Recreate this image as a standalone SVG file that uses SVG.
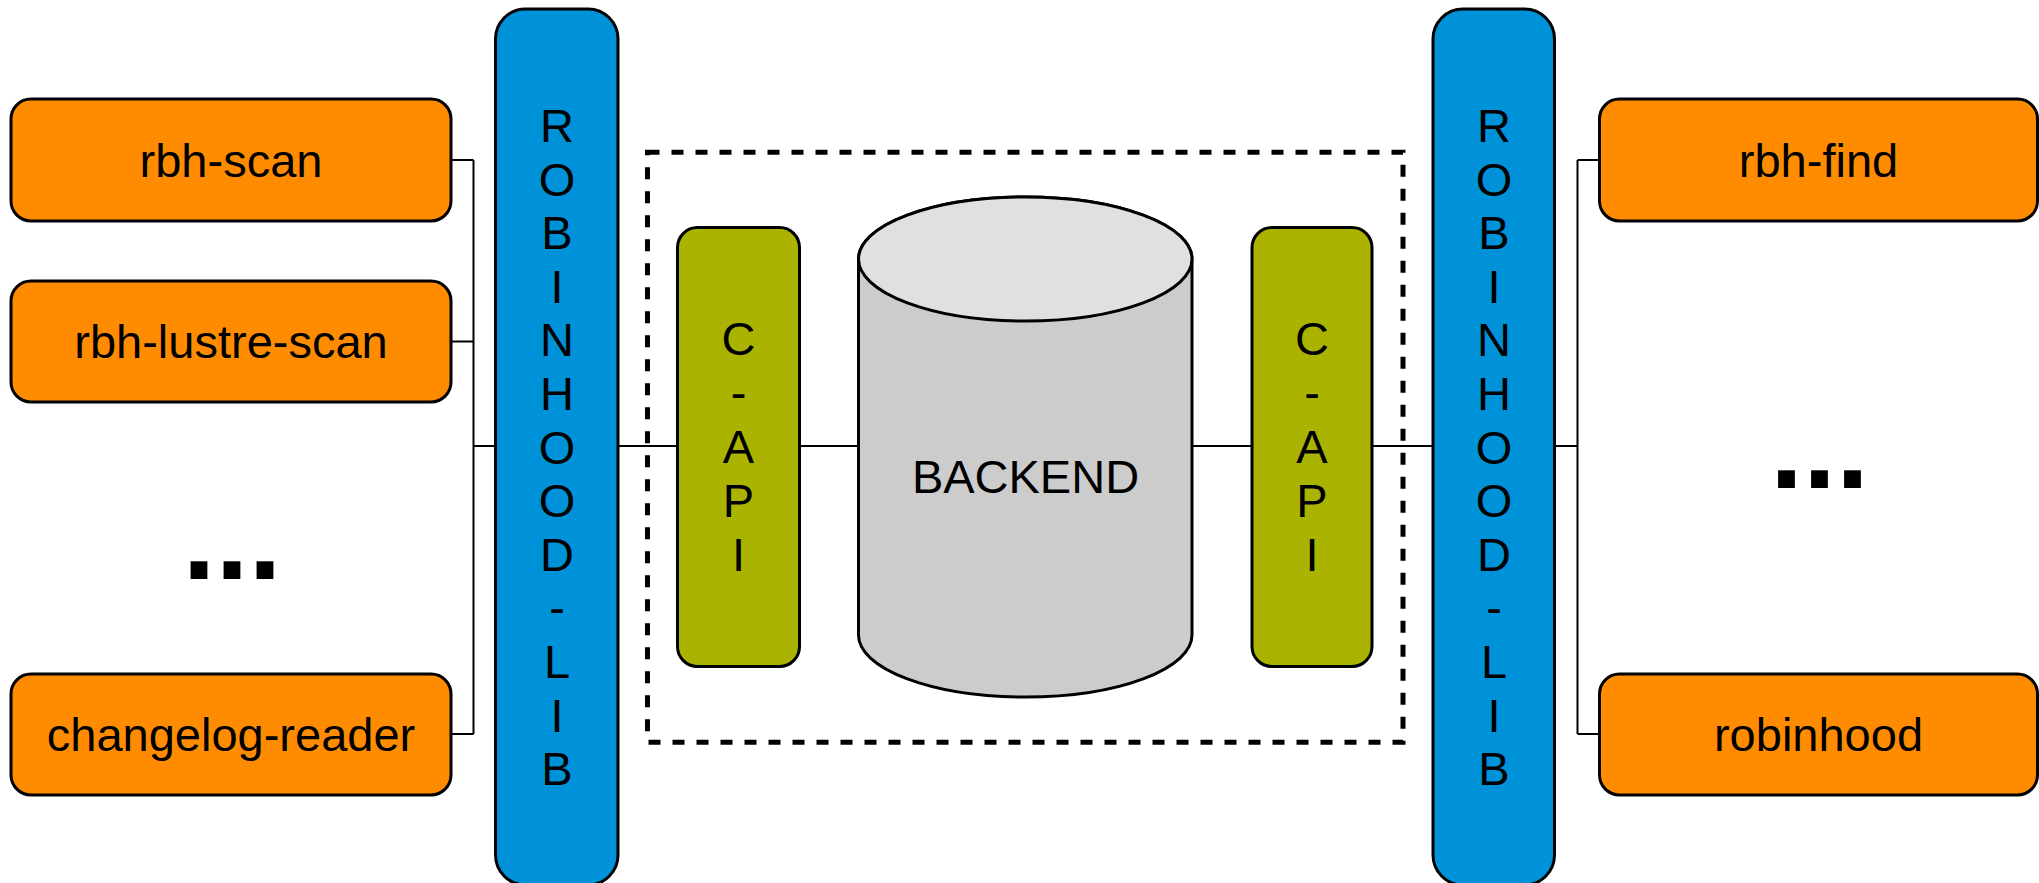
<svg xmlns="http://www.w3.org/2000/svg" width="2039" height="883" viewBox="0 0 2039 883">
<style>
.app{fill:#FF8C00;stroke:#000;stroke-width:3}
.lib{fill:#0092D9;stroke:#000;stroke-width:3}
.api{fill:#AAB400;stroke:#000;stroke-width:3}
.conn{fill:none;stroke:#000;stroke-width:2}
.t{font-family:"Liberation Sans",Arial,sans-serif;font-size:47px;fill:#000;text-anchor:middle}
.dots{font-family:"Liberation Sans",Arial,sans-serif;font-size:119px;font-weight:bold;fill:#000;text-anchor:middle}
</style>
<rect width="2039" height="883" fill="#fff"/>
<g id="connectors">
<path class="conn" d="M451 160H473.5M451 341.5H473.5M451 734H473.5M473.5 160V734M473.5 446H495.5"/>
<path class="conn" d="M618 446H677.5M799.5 446H858.5M1192 446H1252M1372 446H1433"/>
<path class="conn" d="M1554.5 446H1577.5M1577.5 160V734M1577.5 160H1599.5M1577.5 734H1599.5"/>
</g>
<g id="boundary">
<rect x="647.5" y="152.3" width="755.5" height="590" fill="none" stroke="#000" stroke-width="5" stroke-dasharray="12 12"/>
</g>
<g id="rbh-scan">
<rect class="app" x="11" y="99" width="440" height="122" rx="20"/>
<text class="t" x="231" y="177">rbh-scan</text>
</g>
<g id="rbh-lustre-scan">
<rect class="app" x="11" y="281" width="440" height="121" rx="20"/>
<text class="t" x="231" y="358">rbh-lustre-scan</text>
</g>
<g id="changelog-reader">
<rect class="app" x="11" y="674" width="440" height="121" rx="20"/>
<text class="t" x="231" y="751">changelog-reader</text>
</g>
<g id="dots-left">
<text class="dots" x="232" y="578.5">...</text>
</g>
<g id="robinhood-lib-left">
<rect class="lib" x="495.5" y="9" width="122.5" height="876" rx="30"/>
<text class="t" x="557"><tspan x="557" y="142">R</tspan><tspan x="557" y="195.6">O</tspan><tspan x="557" y="249.2">B</tspan><tspan x="557" y="302.8">I</tspan><tspan x="557" y="356.4">N</tspan><tspan x="557" y="410">H</tspan><tspan x="557" y="463.6">O</tspan><tspan x="557" y="517.2">O</tspan><tspan x="557" y="570.8">D</tspan><tspan x="557" y="624.4">-</tspan><tspan x="557" y="678">L</tspan><tspan x="557" y="731.6">I</tspan><tspan x="557" y="785.2">B</tspan></text>
</g>
<g id="c-api-left">
<rect class="api" x="677.5" y="227.5" width="122" height="439" rx="20"/>
<text class="t"><tspan x="738.5" y="355">C</tspan><tspan x="738.5" y="409">-</tspan><tspan x="738.5" y="463">A</tspan><tspan x="738.5" y="517">P</tspan><tspan x="738.5" y="571">I</tspan></text>
</g>
<g id="backend">
<path d="M858.5 259A166.75 62 0 0 1 1192 259V635A166.75 62 0 0 1 858.5 635Z" fill="#CCCCCC" stroke="#000" stroke-width="3"/>
<ellipse cx="1025.25" cy="259" rx="166.75" ry="62" fill="#E0E0E0" stroke="#000" stroke-width="3"/>
<text class="t" x="1025.5" y="493">BACKEND</text>
</g>
<g id="c-api-right">
<rect class="api" x="1252" y="227.5" width="120" height="439" rx="20"/>
<text class="t"><tspan x="1312" y="355">C</tspan><tspan x="1312" y="409">-</tspan><tspan x="1312" y="463">A</tspan><tspan x="1312" y="517">P</tspan><tspan x="1312" y="571">I</tspan></text>
</g>
<g id="robinhood-lib-right">
<rect class="lib" x="1433" y="9" width="121.5" height="876" rx="30"/>
<text class="t"><tspan x="1494" y="142">R</tspan><tspan x="1494" y="195.6">O</tspan><tspan x="1494" y="249.2">B</tspan><tspan x="1494" y="302.8">I</tspan><tspan x="1494" y="356.4">N</tspan><tspan x="1494" y="410">H</tspan><tspan x="1494" y="463.6">O</tspan><tspan x="1494" y="517.2">O</tspan><tspan x="1494" y="570.8">D</tspan><tspan x="1494" y="624.4">-</tspan><tspan x="1494" y="678">L</tspan><tspan x="1494" y="731.6">I</tspan><tspan x="1494" y="785.2">B</tspan></text>
</g>
<g id="rbh-find">
<rect class="app" x="1599.5" y="99" width="438" height="122" rx="20"/>
<text class="t" x="1818.5" y="177">rbh-find</text>
</g>
<g id="dots-right">
<text class="dots" x="1819.5" y="487.5">...</text>
</g>
<g id="robinhood">
<rect class="app" x="1599.5" y="674" width="438" height="121" rx="20"/>
<text class="t" x="1818.5" y="751">robinhood</text>
</g>
</svg>
